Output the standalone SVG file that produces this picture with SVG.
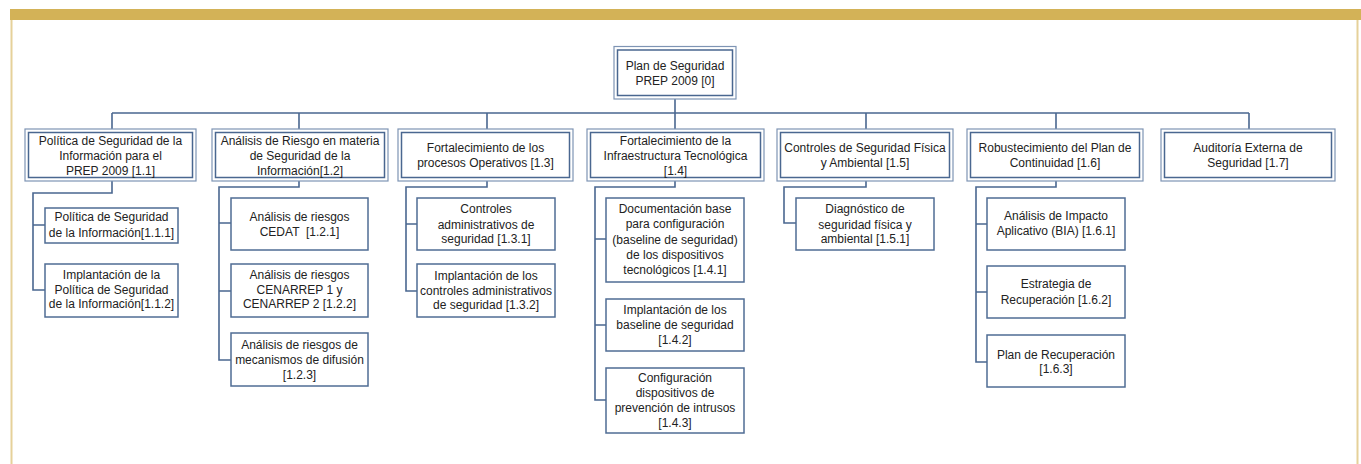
<svg xmlns="http://www.w3.org/2000/svg" width="1361" height="464" viewBox="0 0 1361 464">
<style>
.o{fill:#fff;stroke:#7E94B4;stroke-width:1.2}
.i{fill:none;stroke:#4A6790;stroke-width:1.5}
.c{fill:#fff;stroke:#4F6C94;stroke-width:1.5}
.t{font-family:"Liberation Sans",Arial,sans-serif;font-size:12px;fill:#222;text-anchor:middle}
.k{fill:none;stroke:#4A6790;stroke-width:1.6}
</style>
<rect x="0" y="0" width="1361" height="464" fill="#fff"/>
<rect x="10" y="9" width="1351" height="11" fill="#D3B257"/>
<line x1="11.5" y1="20" x2="11.5" y2="464" stroke="#E6D19A" stroke-width="2"/>
<line x1="1357.5" y1="20" x2="1357.5" y2="464" stroke="#E6D19A" stroke-width="2"/>

<g id="connectors" class="k">
<path d="M675 99V113M112 113H1249M112 113V129M299 113V129M487 113V129M675 113V129M866 113V129M1056 113V129M1249 113V129"/>
<path d="M112 181V193H33V290H45M33 225H45"/>
<path d="M299 181V187H219V360H231M219 223H231M219 291H231"/>
<path d="M487 181V187H406V291H417M406 224H417"/>
<path d="M675 181V187H595V400H606M595 239H606M595 325H606"/>
<path d="M866 181V187H784V223H796"/>
<path d="M1056 181V187H976V362H987M976 224H987M976 292H987"/>
</g>

<g id="n0"><rect class="o" x="614" y="46.5" width="122" height="52.5"/><rect class="i" x="617.5" y="50" width="115" height="45.5"/>
<text class="t" x="675" y="70">Plan de Seguridad</text><text class="t" x="675" y="85">PREP 2009 [0]</text></g>

<g id="n1_1"><rect class="o" x="25" y="129" width="171" height="52"/><rect class="i" x="28.5" y="132.5" width="164" height="45"/>
<text class="t" x="110.5" y="145">Política de Seguridad de la</text><text class="t" x="110.5" y="160">Información para el</text><text class="t" x="110.5" y="175">PREP 2009 [1.1]</text></g>

<g id="n1_2"><rect class="o" x="212" y="129" width="176" height="52"/><rect class="i" x="215.5" y="132.5" width="169" height="45"/>
<text class="t" x="300" y="145">Análisis de Riesgo en materia</text><text class="t" x="300" y="160">de Seguridad de la</text><text class="t" x="300" y="175">Información[1.2]</text></g>

<g id="n1_3"><rect class="o" x="398" y="129" width="175" height="52"/><rect class="i" x="401.5" y="132.5" width="168" height="45"/>
<text class="t" x="485.5" y="152">Fortalecimiento de los</text><text class="t" x="485.5" y="167">procesos Operativos [1.3]</text></g>

<g id="n1_4"><rect class="o" x="587" y="129" width="177" height="52"/><rect class="i" x="590.5" y="132.5" width="170" height="45"/>
<text class="t" x="675.5" y="145">Fortalecimiento de la</text><text class="t" x="675.5" y="160">Infraestructura Tecnológica</text><text class="t" x="675.5" y="175">[1.4]</text></g>

<g id="n1_5"><rect class="o" x="777" y="129" width="176" height="52"/><rect class="i" x="780.5" y="132.5" width="169" height="45"/>
<text class="t" x="865" y="152">Controles de Seguridad Física</text><text class="t" x="865" y="167">y Ambiental [1.5]</text></g>

<g id="n1_6"><rect class="o" x="967" y="129" width="176" height="52"/><rect class="i" x="970.5" y="132.5" width="169" height="45"/>
<text class="t" x="1055" y="152">Robustecimiento del Plan de</text><text class="t" x="1055" y="167">Continuidad [1.6]</text></g>

<g id="n1_7"><rect class="o" x="1161" y="129" width="174" height="52"/><rect class="i" x="1164.5" y="132.5" width="167" height="45"/>
<text class="t" x="1248" y="152">Auditoría Externa de</text><text class="t" x="1248" y="167">Seguridad [1.7]</text></g>

<g id="n1_1_1"><rect class="c" x="45" y="208" width="133" height="35"/>
<text class="t" x="111.5" y="221">Política de Seguridad</text><text class="t" x="111.5" y="237">de la Información[1.1.1]</text></g>
<g id="n1_1_2"><rect class="c" x="45" y="264" width="133" height="53"/>
<text class="t" x="111.5" y="279">Implantación de la</text><text class="t" x="111.5" y="294">Política de Seguridad</text><text class="t" x="111.5" y="308">de la Información[1.1.2]</text></g>

<g id="n1_2_1"><rect class="c" x="231" y="198" width="137" height="52"/>
<text class="t" x="299.5" y="221">Análisis de riesgos</text><text class="t" x="299.5" y="236" xml:space="preserve">CEDAT  [1.2.1]</text></g>
<g id="n1_2_2"><rect class="c" x="231" y="264" width="137" height="53"/>
<text class="t" x="299.5" y="279">Análisis de riesgos</text><text class="t" x="299.5" y="294">CENARREP 1 y</text><text class="t" x="299.5" y="308">CENARREP 2 [1.2.2]</text></g>
<g id="n1_2_3"><rect class="c" x="231" y="333" width="137" height="53"/>
<text class="t" x="299.5" y="349">Análisis de riesgos de</text><text class="t" x="299.5" y="364">mecanismos de difusión</text><text class="t" x="299.5" y="379">[1.2.3]</text></g>

<g id="n1_3_1"><rect class="c" x="417" y="198" width="138" height="52"/>
<text class="t" x="486" y="213">Controles</text><text class="t" x="486" y="229">administrativos de</text><text class="t" x="486" y="243">seguridad [1.3.1]</text></g>
<g id="n1_3_2"><rect class="c" x="417" y="264" width="138" height="53"/>
<text class="t" x="486" y="280">Implantación de los</text><text class="t" x="486" y="295">controles administrativos</text><text class="t" x="486" y="309">de seguridad [1.3.2]</text></g>

<g id="n1_4_1"><rect class="c" x="606" y="198" width="138" height="84"/>
<text class="t" x="675" y="213">Documentación base</text><text class="t" x="675" y="228">para configuración</text><text class="t" x="675" y="244">(baseline de seguridad)</text><text class="t" x="675" y="259">de los dispositivos</text><text class="t" x="675" y="274">tecnológicos [1.4.1]</text></g>
<g id="n1_4_2"><rect class="c" x="606" y="299" width="138" height="52"/>
<text class="t" x="675" y="314">Implantación de los</text><text class="t" x="675" y="329">baseline de seguridad</text><text class="t" x="675" y="344">[1.4.2]</text></g>
<g id="n1_4_3"><rect class="c" x="606" y="368" width="138" height="65"/>
<text class="t" x="675" y="382">Configuración</text><text class="t" x="675" y="397">dispositivos de</text><text class="t" x="675" y="412">prevención de intrusos</text><text class="t" x="675" y="427">[1.4.3]</text></g>

<g id="n1_5_1"><rect class="c" x="796" y="198" width="138" height="52"/>
<text class="t" x="865" y="213">Diagnóstico de</text><text class="t" x="865" y="229">seguridad física y</text><text class="t" x="865" y="243">ambiental [1.5.1]</text></g>

<g id="n1_6_1"><rect class="c" x="987" y="198" width="138" height="52"/>
<text class="t" x="1056" y="220">Análisis de Impacto</text><text class="t" x="1056" y="235">Aplicativo (BIA) [1.6.1]</text></g>
<g id="n1_6_2"><rect class="c" x="987" y="266" width="138" height="52"/>
<text class="t" x="1056" y="288">Estrategia de</text><text class="t" x="1056" y="304">Recuperación [1.6.2]</text></g>
<g id="n1_6_3"><rect class="c" x="987" y="335" width="138" height="52"/>
<text class="t" x="1056" y="359">Plan de Recuperación</text><text class="t" x="1056" y="373">[1.6.3]</text></g>
</svg>
